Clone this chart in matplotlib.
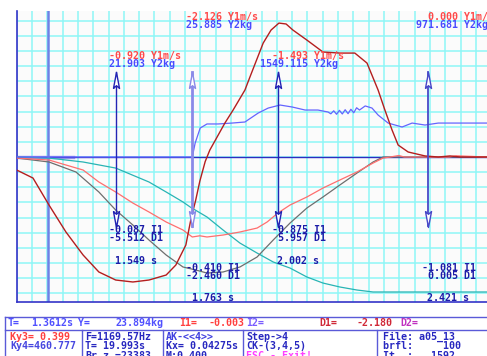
import numpy as np
import matplotlib.pyplot as plt

# ---------------- data (x in seconds, y in grid divisions) ----------------
t_start = 1.2725
t_end = 2.5862
kx = 0.04275          # time per grid division
t_main = 1.3612       # main cursor

# D1 (dark red)
t_d1 = [1.2725, 1.318, 1.3627, 1.410, 1.458, 1.502, 1.549, 1.597, 1.642, 1.690,
        1.717, 1.745, 1.760, 1.772, 1.784, 1.799, 1.812, 1.854, 1.877, 1.910,
        1.924, 1.961, 1.983, 2.005, 2.025, 2.044, 2.083, 2.128, 2.175, 2.217,
        2.251, 2.282, 2.301, 2.321, 2.338, 2.366, 2.413, 2.450, 2.483, 2.511, 2.586]
d1 = [-0.86, -1.39, -3.17, -4.95, -6.47, -7.59, -8.12, -8.25, -8.12, -7.79,
      -7.13, -5.81, -4.00, -2.90, -1.60, -0.30, 0.46, 2.24, 3.10, 4.42,
      5.28, 7.52, 8.38, 8.84, 8.78, 8.38, 7.72, 6.93, 6.86, 6.86,
      6.20, 4.42, 3.10, 1.78, 0.79, 0.33, 0.07, 0.0, 0.07, 0.0, 0.0]

# Y1 m/s (salmon)
t_y1 = [1.2725, 1.3627, 1.458, 1.502, 1.549, 1.597, 1.642, 1.690, 1.737, 1.763,
        1.784, 1.804, 1.849, 1.896, 1.944, 1.972, 2.002, 2.036, 2.083, 2.128,
        2.175, 2.223, 2.268, 2.296, 2.316, 2.340, 2.355, 2.480, 2.500, 2.586]
y1 = [-0.07, -0.20, -0.86, -1.65, -2.31, -3.04, -3.63, -4.29, -4.82, -5.28,
      -5.20, -5.28, -5.15, -4.95, -4.69, -4.29, -3.70, -3.17, -2.64, -2.05,
      -1.52, -0.99, -0.40, -0.07, 0.0, 0.10, 0.0, 0.0, 0.08, 0.0]

# grey curve
t_gr = [1.2725, 1.3627, 1.438, 1.502, 1.549, 1.597, 1.642, 1.690, 1.737, 1.773,
        1.804, 1.849, 1.896, 1.944, 1.989, 2.036, 2.083, 2.128, 2.175, 2.223,
        2.268, 2.296, 2.586]
gr = [-0.07, -0.33, -0.99, -2.31, -3.50, -4.49, -5.48, -6.47, -7.26, -7.46,
      -7.66, -7.59, -7.26, -6.60, -5.48, -4.36, -3.37, -2.64, -1.85, -1.06,
      -0.33, 0.0, 0.0]

# I1 (teal)
t_i1 = [1.2725, 1.3627, 1.458, 1.549, 1.642, 1.690, 1.737, 1.757, 1.804, 1.849,
        1.896, 1.944, 1.989, 2.036, 2.083, 2.128, 2.175, 2.223, 2.268, 2.371, 2.586]
i1 = [0.0, -0.07, -0.33, -0.73, -1.65, -2.31, -2.97, -3.30, -3.96, -4.82,
      -5.68, -6.34, -6.93, -7.33, -7.92, -8.32, -8.58, -8.78, -8.91, -8.91, -8.91]

# Y2 kg (blue)
t_y2 = [1.2725, 1.763, 1.771, 1.785, 1.804, 1.835, 1.874, 1.910, 1.947, 1.975,
        2.008, 2.042, 2.078, 2.114, 2.142, 2.150, 2.158, 2.166, 2.174, 2.182,
        2.190, 2.198, 2.206, 2.214, 2.222, 2.230, 2.246, 2.265, 2.282, 2.310,
        2.349, 2.377, 2.413, 2.450, 2.506, 2.586]
y2 = [0.0, 0.0, 0.92, 1.91, 2.18, 2.18, 2.24, 2.31, 2.90, 3.23,
      3.43, 3.30, 3.10, 3.10, 2.97, 2.85, 3.05, 2.82, 3.08, 2.84,
      3.12, 2.86, 3.15, 2.92, 3.25, 3.10, 3.37, 3.23, 2.77, 2.24,
      1.98, 2.24, 2.11, 2.24, 2.24, 2.24]

# cursor read-outs
cursor_t = [1.549, 1.763, 2.002, 2.421]
cur_y1 = [-0.920, -2.126, -1.493, 0.000]
cur_y2 = [21.903, 25.885, 1549.115, 971.681]
cur_i1 = [-0.087, -0.410, -0.875, -1.081]
cur_d1 = [-5.512, -2.460, 5.957, 0.005]

W, H = 487, 356
fig = plt.figure(figsize=(W / 100, H / 100), dpi=100, facecolor="white")
ax = fig.add_axes([16.7 / W, 54 / H, (W - 16.7) / W, 291 / H])
ax.set_facecolor("#fbfbfb")
ax.set_xlim(t_start, t_end)
ax.set_ylim(-145 / 15.15, 146 / 15.15)

ax.set_xticks(t_start + kx * np.arange(31))
ax.set_yticks(np.arange(-9, 10))
ax.tick_params(length=0, labelbottom=False, labelleft=False)
ax.grid(color="#8ef6f6", lw=1.1)
ax.set_axisbelow(True)
for s in ["top", "right"]:
    ax.spines[s].set_visible(False)
for s in ["left", "bottom"]:
    ax.spines[s].set_color("#3434c8")
    ax.spines[s].set_linewidth(1.2)

# zero line and main cursor
ax.plot([t_start, 1.43], [0, 0], color="#a8a8f0", lw=2.5, zorder=2)
ax.axhline(0, color="#2c2cc0", lw=1.0, zorder=2)
ax.axvline(t_main, color="#6e82e6", lw=1.8, zorder=2)

# curves
ax.plot(t_i1, i1, color="#28b4b4", lw=0.9, zorder=3)
ax.plot(t_gr, gr, color="#6e6e6e", lw=0.9, zorder=3)
ax.plot(t_y1, y1, color="#ff6e6e", lw=0.9, zorder=3)
ax.plot(t_y2, y2, color="#6464ff", lw=0.9, zorder=3)
ax.plot(t_d1, d1, color="#b41e1e", lw=1.0, zorder=3)

# cursors with hollow arrows
up = [(-0.38, -1), (0, 1), (0.38, -1), (0, -0.65), (-0.38, -1)]
down = [(x, -y) for x, y in up]
cur_col = ["#2424b4", "#8a8ae8", "#2424b4", "#4848c8"]
cur_lw = [1.0, 2.0, 1.0, 1.3]
mono = dict(family="DejaVu Sans Mono", fontweight="bold", fontsize=7.2)

for i, t in enumerate(cursor_t):
    ax.plot([t, t], [-4.55, 5.61], color=cur_col[i], lw=cur_lw[i], zorder=4)
    ax.plot([t], [5.08], marker=up, ms=11.5, mfc="white", mec=cur_col[i],
            mew=1.0, zorder=5)
    ax.plot([t], [-4.09], marker=down, ms=11.5, mfc="white", mec=cur_col[i],
            mew=1.0, zorder=5)
    if i % 2 == 0:
        rows_top, rows_bot = (6.67, 6.17), (-4.82, -5.35, -6.86)
    else:
        rows_top, rows_bot = (9.21, 8.68), (-7.35, -7.85, -9.33)
    labels = [(f"{cur_y1[i]:8.3f} Y1m/s", rows_top[0], "#ff4a4a", -13.2),
              (f"{cur_y2[i]:8.3f} Y2kg", rows_top[1], "#4a4aff", -13.2),
              (f"{cur_i1[i]:8.3f} I1", rows_bot[0], "#1c1ca8", -13.2),
              (f"{cur_d1[i]:8.3f} D1", rows_bot[1], "#1c1ca8", -13.2),
              (f"{t:.3f} s", rows_bot[2], "#1c1ca8", -0.4)]
    for txt, yy, col, dx in labels:
        ax.annotate(txt, xy=(t, yy), xytext=(dx, 0), textcoords="offset points",
                    ha="left", va="center", color=col, zorder=6, **mono)

# ---------------- status panel ----------------
sax = fig.add_axes([0, 0, 1, 1], facecolor="none")
sax.set_xlim(0, W)
sax.set_ylim(H, 0)
sax.axis("off")

box = "#5a5ad8"
sax.plot([5, W], [317, 317], color=box, lw=1)
sax.plot([5, W], [330, 330], color=box, lw=1)
sax.plot([5, 5], [317, H], color=box, lw=1)
for xv in [82, 163, 243, 377]:
    sax.plot([xv, xv], [330, H], color=box, lw=1)

blue, dark, red = "#5050ff", "#2828c0", "#ff4040"
row1 = [("T=", 7, blue), ("1.3612s", 31, blue), ("Y=", 78, blue),
        ("23.894kg", 115, blue), ("I1=", 179, red), ("-0.003", 208, red),
        ("I2=", 246, "#7a5cff"), ("D1=", 319, "#d02838"), ("-2.180", 356, "#d02838"),
        ("D2=", 400, "#c030c0")]
for txt, xx, col in row1:
    sax.text(xx, 323.5, txt, color=col, ha="left", va="center", **mono)

cols = [(10, [("Ky3= 0.399", red), ("Ky4=460.777", "#4848e0")]),
        (85, [("F=1169.57Hz", dark), ("T= 19.993s", dark), ("Br.z.=23383", dark)]),
        (166, [("AK-<<4>>", "#4040e0"), ("Kx= 0.04275s", dark), ("M:0.400", dark)]),
        (246, [("Step->4", dark), ("CK-(3,4,5)", dark), ("ESC - Exit!", "#ff40ff")]),
        (383, [("File: a05_13", dark), ("brfl:     100", dark), ("It  :   1592", dark)])]
for xx, items in cols:
    for k, (txt, col) in enumerate(items):
        sax.text(xx, 337 + 9.3 * k, txt, color=col, ha="left", va="center", **mono)

fig.savefig("out.png", dpi=100, facecolor="white")
